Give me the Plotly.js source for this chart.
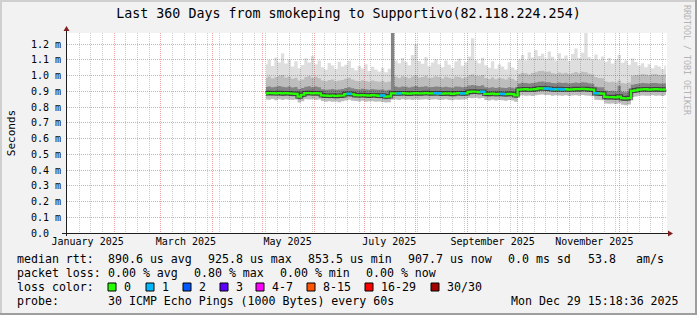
<!DOCTYPE html>
<html><head><meta charset="utf-8">
<script src="https://cdn.plot.ly/plotly-3.0.1.min.js"></script>
<style>html,body{margin:0;padding:0;background:#f2f2f2;}#chart{width:697px;height:315px;}</style>
</head><body><div id="chart"></div>
<script>
// ---- data (milliseconds) ----
const startDate = '2025-05-03';
const stepDays = 2;
const rangeStart = '2025-01-03 15:18:36';
const rangeEnd = '2025-12-29 15:18:36';

const median = [0.887,0.889,0.888,0.887,0.889,0.886,0.888,0.887,0.885,0.884,
0.866,0.878,0.888,0.889,0.887,0.888,0.886,0.874,0.872,0.871,
0.873,0.870,0.872,0.873,0.882,0.884,0.881,0.875,0.874,0.876,
0.874,0.872,0.875,0.874,0.871,0.873,0.866,0.868,0.886,0.887,
0.886,0.888,0.887,0.885,0.887,0.888,0.886,0.887,0.889,0.887,
0.886,0.888,0.887,0.885,0.887,0.886,0.883,0.887,0.888,0.886,
0.887,0.896,0.898,0.897,0.895,0.897,0.884,0.883,0.885,0.882,
0.884,0.883,0.881,0.884,0.882,0.874,0.911,0.912,0.913,0.911,
0.912,0.914,0.918,0.919,0.917,0.916,0.913,0.912,0.914,0.912,
0.913,0.911,0.912,0.914,0.913,0.915,0.914,0.912,0.910,0.888,
0.886,0.885,0.864,0.862,0.863,0.861,0.866,0.856,0.854,0.857,
0.903,0.906,0.911,0.912,0.913,0.911,0.912,0.913,0.912,0.911,0.912];

const pingLow = [0.848,0.846,0.851,0.843,0.849,0.845,0.850,0.846,0.844,0.847,
0.828,0.836,0.849,0.847,0.850,0.845,0.848,0.838,0.833,0.836,
0.834,0.835,0.831,0.837,0.842,0.846,0.840,0.838,0.835,0.839,
0.834,0.836,0.837,0.833,0.835,0.832,0.828,0.831,0.846,0.848,
0.845,0.850,0.846,0.847,0.844,0.849,0.846,0.848,0.850,0.845,
0.847,0.849,0.844,0.846,0.849,0.845,0.843,0.848,0.846,0.847,
0.849,0.857,0.856,0.859,0.854,0.857,0.845,0.842,0.846,0.841,
0.844,0.843,0.840,0.845,0.842,0.833,0.872,0.874,0.871,0.873,
0.870,0.875,0.878,0.880,0.876,0.877,0.872,0.874,0.873,0.871,
0.875,0.870,0.873,0.874,0.871,0.876,0.873,0.872,0.869,0.846,
0.844,0.843,0.823,0.820,0.822,0.819,0.824,0.815,0.812,0.816,
0.863,0.866,0.872,0.873,0.871,0.872,0.874,0.872,0.873,0.870,0.874];

const pingQ1 = [0.872,0.874,0.873,0.871,0.874,0.870,0.873,0.872,0.869,0.869,
0.850,0.862,0.873,0.874,0.871,0.873,0.871,0.859,0.857,0.855,
0.858,0.855,0.857,0.857,0.867,0.869,0.866,0.860,0.858,0.861,
0.859,0.857,0.860,0.858,0.856,0.858,0.850,0.853,0.871,0.872,
0.870,0.873,0.872,0.870,0.871,0.873,0.871,0.872,0.874,0.871,
0.871,0.873,0.871,0.870,0.872,0.870,0.868,0.872,0.873,0.870,
0.872,0.881,0.883,0.882,0.880,0.882,0.869,0.867,0.870,0.867,
0.869,0.868,0.865,0.869,0.867,0.858,0.896,0.897,0.897,0.896,
0.896,0.899,0.903,0.904,0.902,0.901,0.897,0.897,0.899,0.896,
0.898,0.896,0.897,0.899,0.897,0.900,0.898,0.897,0.894,0.873,
0.870,0.870,0.848,0.846,0.848,0.845,0.850,0.840,0.838,0.842,
0.887,0.891,0.896,0.897,0.897,0.896,0.897,0.897,0.896,0.896,0.897];

const pingQ3 = [0.927,0.931,0.925,0.929,0.933,0.928,0.926,0.930,0.924,0.927,
0.915,0.921,0.929,0.932,0.926,0.930,0.925,0.913,0.910,0.912,
0.915,0.909,0.911,0.914,0.921,0.925,0.919,0.914,0.912,0.916,
0.913,0.910,0.914,0.912,0.909,0.912,0.905,0.910,1.400,0.930,
0.926,0.931,0.928,0.924,0.929,0.933,0.927,0.928,0.932,0.926,
0.927,0.930,0.928,0.925,0.929,0.926,0.923,0.930,0.929,0.925,
0.928,0.937,0.940,0.936,0.934,0.938,0.925,0.922,0.926,0.921,
0.925,0.923,0.920,0.926,0.922,0.916,0.950,0.954,0.952,0.949,
0.953,0.955,0.960,0.962,0.957,0.958,0.953,0.951,0.955,0.952,
0.954,0.950,0.953,0.956,0.952,0.957,0.955,0.951,0.948,0.929,
0.926,0.925,0.905,0.902,0.904,0.900,0.935,0.897,0.894,0.899,
0.942,0.946,0.950,0.952,0.951,0.949,0.952,0.953,0.950,0.949,0.951];

const pingQ4 = [0.985,0.994,0.981,0.990,0.998,1.004,0.987,0.993,0.979,0.986,
0.968,0.975,0.991,0.997,0.984,0.992,0.983,0.969,0.964,0.972,
0.975,0.963,0.968,0.971,0.980,0.986,0.975,0.966,0.963,0.970,
0.965,0.961,0.968,0.964,0.960,0.966,0.957,0.962,1.420,0.993,
0.985,0.996,0.990,0.982,0.994,1.003,0.988,0.991,0.999,0.984,
0.987,0.995,0.990,0.981,0.992,0.986,0.979,0.993,0.991,0.983,
0.989,1.001,1.008,0.999,0.995,1.004,0.985,0.978,0.988,0.976,
0.984,0.981,0.974,0.987,0.979,0.968,1.010,1.018,1.014,1.007,
1.016,1.021,1.028,1.031,1.022,1.025,1.015,1.011,1.019,1.013,
1.017,1.009,1.015,1.022,1.014,1.024,1.020,1.012,1.006,0.990,
0.984,0.982,0.962,0.958,0.961,0.955,0.968,0.952,0.949,0.956,
0.998,1.004,1.005,1.009,1.006,1.002,1.008,1.010,1.004,1.001,1.006];

const pingMax = [1.072,1.098,1.061,1.115,1.084,1.142,1.076,1.103,1.058,1.091,
1.046,1.067,1.109,1.082,1.124,1.071,1.095,1.052,1.038,1.079,
1.063,1.041,1.087,1.058,1.069,1.093,1.047,1.033,1.061,1.044,
1.072,1.029,1.056,1.038,1.025,1.049,1.021,1.043,1.450,1.096,
1.078,1.112,1.087,1.065,1.131,1.198,1.092,1.074,1.118,1.059,
1.083,1.104,1.071,1.052,1.096,1.068,1.047,1.089,1.107,1.062,
1.085,1.121,1.236,1.097,1.078,1.113,1.066,1.049,1.091,1.043,
1.072,1.058,1.039,1.084,1.051,1.036,1.102,1.131,1.097,1.148,
1.115,1.162,1.124,1.139,1.108,1.153,1.119,1.096,1.141,1.108,
1.127,1.093,1.136,1.171,1.112,1.145,1.290,1.118,1.102,1.134,
1.098,1.121,1.087,1.112,1.076,1.103,1.132,1.081,1.095,1.069,
1.108,1.086,1.063,1.078,1.052,1.071,1.046,1.065,1.058,1.041,1.062];

const lossCount = [0,0,0,0,0,0,0,0,0,0,
0,0,0,0,0,0,0,0,0,0,
0,0,0,0,0,1,0,0,0,0,
0,0,0,0,0,1,0,0,0,0,
1,0,0,0,0,0,0,0,0,0,
0,1,1,0,0,0,0,0,0,1,
0,0,0,0,0,1,0,0,0,0,
0,1,0,0,0,0,0,0,0,0,
0,0,0,0,1,1,1,0,1,1,
0,0,0,0,0,0,0,0,0,1,
0,0,0,0,0,0,0,0,0,0,
0,0,0,0,0,0,0,0,0,0,0];

const yTickVals = [0,0.1,0.2,0.3,0.4,0.5,0.6,0.7,0.8,0.9,1.0,1.1,1.2];
const yTickText = ['0.0\u00a0\u00a0','0.1 m','0.2 m','0.3 m','0.4 m','0.5 m','0.6 m','0.7 m','0.8 m','0.9 m','1.0 m','1.1 m','1.2 m'];
const xLabelVals = ['2025-01-16','2025-03-16','2025-05-16','2025-07-16','2025-09-16','2025-11-16'];
const xLabelText = ['January 2025','March 2025','May 2025','July 2025','September 2025','November 2025'];

const lossLabels = ['0','1','2','3','4-7','8-15','16-29','30/30'];
const lossColors = ['#26ff00','#00b8ff','#0059ff','#5e00ff','#ff00ff','#ff5500','#ff0000','#a10000'];

// ---- build ----
const t0 = Date.parse(startDate + 'T00:00:00Z');
const xs = median.map((_, i) => new Date(t0 + i * stepDays * 86400000).toISOString().slice(0, 10));

const FONT = 'DejaVu Sans Mono';
const traces = [];
function band(lo, hi, color) {
  traces.push({x: xs, y: lo, type: 'scatter', mode: 'lines', line: {width: 0, shape: 'hvh'}, hoverinfo: 'skip', showlegend: false});
  traces.push({x: xs, y: hi, type: 'scatter', mode: 'lines', line: {width: 0, shape: 'hvh'}, fill: 'tonexty', fillcolor: color, hoverinfo: 'skip', showlegend: false});
}
band(pingLow, pingMax, 'rgba(0,0,0,0.13)');
band(pingLow, pingQ4, 'rgba(0,0,0,0.15)');
band(pingQ1, pingQ3, 'rgba(0,0,0,0.30)');

traces.push({x: xs, y: median, xaxis: 'x2', type: 'scatter', mode: 'lines', line: {color: 'rgba(0,0,0,0.5)', width: 4.5, shape: 'hvh'}, hoverinfo: 'skip', showlegend: false});
traces.push({x: xs, y: median, xaxis: 'x2', type: 'scatter', mode: 'lines', line: {color: lossColors[0], width: 2.2, shape: 'hvh'}, showlegend: false});
const lossIdx = (c) => c >= 30 ? 7 : c >= 16 ? 6 : c >= 8 ? 5 : c >= 4 ? 4 : c;
traces.push({
  x: xs, y: median.map((v, i) => lossCount[i] > 0 ? v : null), xaxis: 'x2',
  type: 'scatter', mode: 'markers',
  marker: {symbol: 'line-ew', size: 4, line: {width: 2.4, color: lossCount.map(c => lossColors[lossIdx(c)])}},
  showlegend: false
});

const PX = (p) => (p - 67) / 600;
const PY = (p) => (233 - p) / 200;

const shapes = [];
function rectPx(x0, y0, x1, y1, fill, lineColor) {
  shapes.push({type: 'rect', xref: 'paper', yref: 'paper', x0: PX(x0), x1: PX(x1), y0: PY(y1), y1: PY(y0),
    fillcolor: fill, line: lineColor ? {color: lineColor, width: 1} : {width: 0}, layer: 'above'});
}
// frame
rectPx(0, 0, 697, 2, '#cfcfcf');
rectPx(0, 0, 2, 315, '#cfcfcf');
rectPx(0, 313, 697, 315, '#9e9e9e');
rectPx(695, 0, 697, 315, '#9e9e9e');
// axes
shapes.push({type: 'line', xref: 'paper', yref: 'paper', x0: PX(62), x1: PX(668), y0: PY(233.5), y1: PY(233.5), line: {color: '#1f1f1f', width: 1}, layer: 'above'});
shapes.push({type: 'line', xref: 'paper', yref: 'paper', x0: PX(66.5), x1: PX(66.5), y0: PY(236), y1: PY(30), line: {color: '#1f1f1f', width: 1}, layer: 'above'});
shapes.push({type: 'path', xref: 'paper', yref: 'paper', path: `M${PX(668)},${PY(230.5)} L${PX(673)},${PY(233.5)} L${PX(668)},${PY(236.5)} Z`, fillcolor: '#801f1f', line: {width: 0}, layer: 'above'});
shapes.push({type: 'path', xref: 'paper', yref: 'paper', path: `M${PX(63.5)},${PY(31)} L${PX(66.5)},${PY(26)} L${PX(69.5)},${PY(31)} Z`, fillcolor: '#801f1f', line: {width: 0}, layer: 'above'});

const annotations = [];
function txt(text, px, py, opts) {
  annotations.push(Object.assign({text: text, xref: 'paper', yref: 'paper', x: PX(px), y: PY(py), xanchor: 'left', yanchor: 'middle',
    showarrow: false, borderpad: 0, font: {family: FONT, size: 11.6, color: '#000'}}, opts || {}));
}
// legend rows
txt('median rtt:', 16, 259);
txt('890.6 us avg', 107, 259); txt('925.8 us max', 207, 259); txt('853.5 us min', 307, 259);
txt('907.7 us now', 407, 259); txt('0.0 ms sd', 507, 259); txt('53.8', 587, 259); txt('am/s', 635, 259);
txt('packet loss:', 16, 273);
txt('0.00 % avg', 107, 273); txt('0.80 % max', 193, 273); txt('0.00 % min', 279, 273); txt('0.00 % now', 365, 273);
txt('loss color:', 16, 287);
const boxX = [108, 146, 183, 220, 256, 307, 365, 431];
lossLabels.forEach((lab, k) => {
  rectPx(boxX[k], 283, boxX[k] + 8, 291, lossColors[k], '#000');
  txt(lab, boxX[k] + 15, 287);
});
txt('probe:', 16, 301);
txt('30 ICMP Echo Pings (1000 Bytes) every 60s', 107, 301);
txt('Mon Dec 29 15:18:36 2025', 680, 301, {xanchor: 'right'});
// watermark
txt('RRDTOOL / TOBI OETIKER', 687, 60, {xanchor: 'center', textangle: 90, font: {family: FONT, size: 8.3, color: '#b4b4b4'}});

const gridRed = 'rgba(222,79,79,0.5)';
const gridGray = 'rgba(143,143,143,0.45)';

const layout = {
  width: 697, height: 315,
  margin: {l: 67, r: 30, t: 33, b: 82},
  paper_bgcolor: '#f2f2f2', plot_bgcolor: '#ffffff',
  showlegend: false,
  title: {text: 'Last 360 Days from smokeping to Supportivo(82.118.224.254)',
    font: {family: FONT, size: 13.3, color: '#000'},
    x: 0.5, xref: 'container', xanchor: 'center', y: 1 - 13 / 315, yref: 'container', yanchor: 'middle'},
  xaxis: {type: 'date', range: [rangeStart, rangeEnd], tickmode: 'linear', tick0: '2025-02-01', dtick: 'M1',
    showticklabels: false, ticks: '', showgrid: true, gridcolor: gridRed, griddash: '1px,1px', gridwidth: 1,
    minor: {tick0: '2025-01-04', dtick: 604800000, showgrid: true, gridcolor: gridGray, griddash: '1px,1px', gridwidth: 1, ticks: ''},
    zeroline: false, showline: false, fixedrange: true},
  xaxis2: {type: 'date', range: [rangeStart, rangeEnd], overlaying: 'x', anchor: 'y', side: 'bottom',
    tickmode: 'array', tickvals: xLabelVals, ticktext: xLabelText, showgrid: false, ticks: '',
    tickfont: {family: FONT, size: 10, color: '#000'}, ticklabelstandoff: 1, zeroline: false, showline: false, fixedrange: true},
  yaxis: {range: [0, 1.27], tickmode: 'array', tickvals: yTickVals, ticktext: yTickText,
    showgrid: true, gridcolor: gridRed, griddash: '1px,1px', gridwidth: 1, zeroline: false, ticks: '',
    tickfont: {family: FONT, size: 10, color: '#000'}, ticklabelstandoff: 5, fixedrange: true,
    title: {text: 'Seconds', font: {family: FONT, size: 11, color: '#000'}, standoff: 13}},
  shapes: shapes,
  annotations: annotations
};

Plotly.newPlot('chart', traces, layout, {displayModeBar: false, staticPlot: true});
</script>
</body></html>
